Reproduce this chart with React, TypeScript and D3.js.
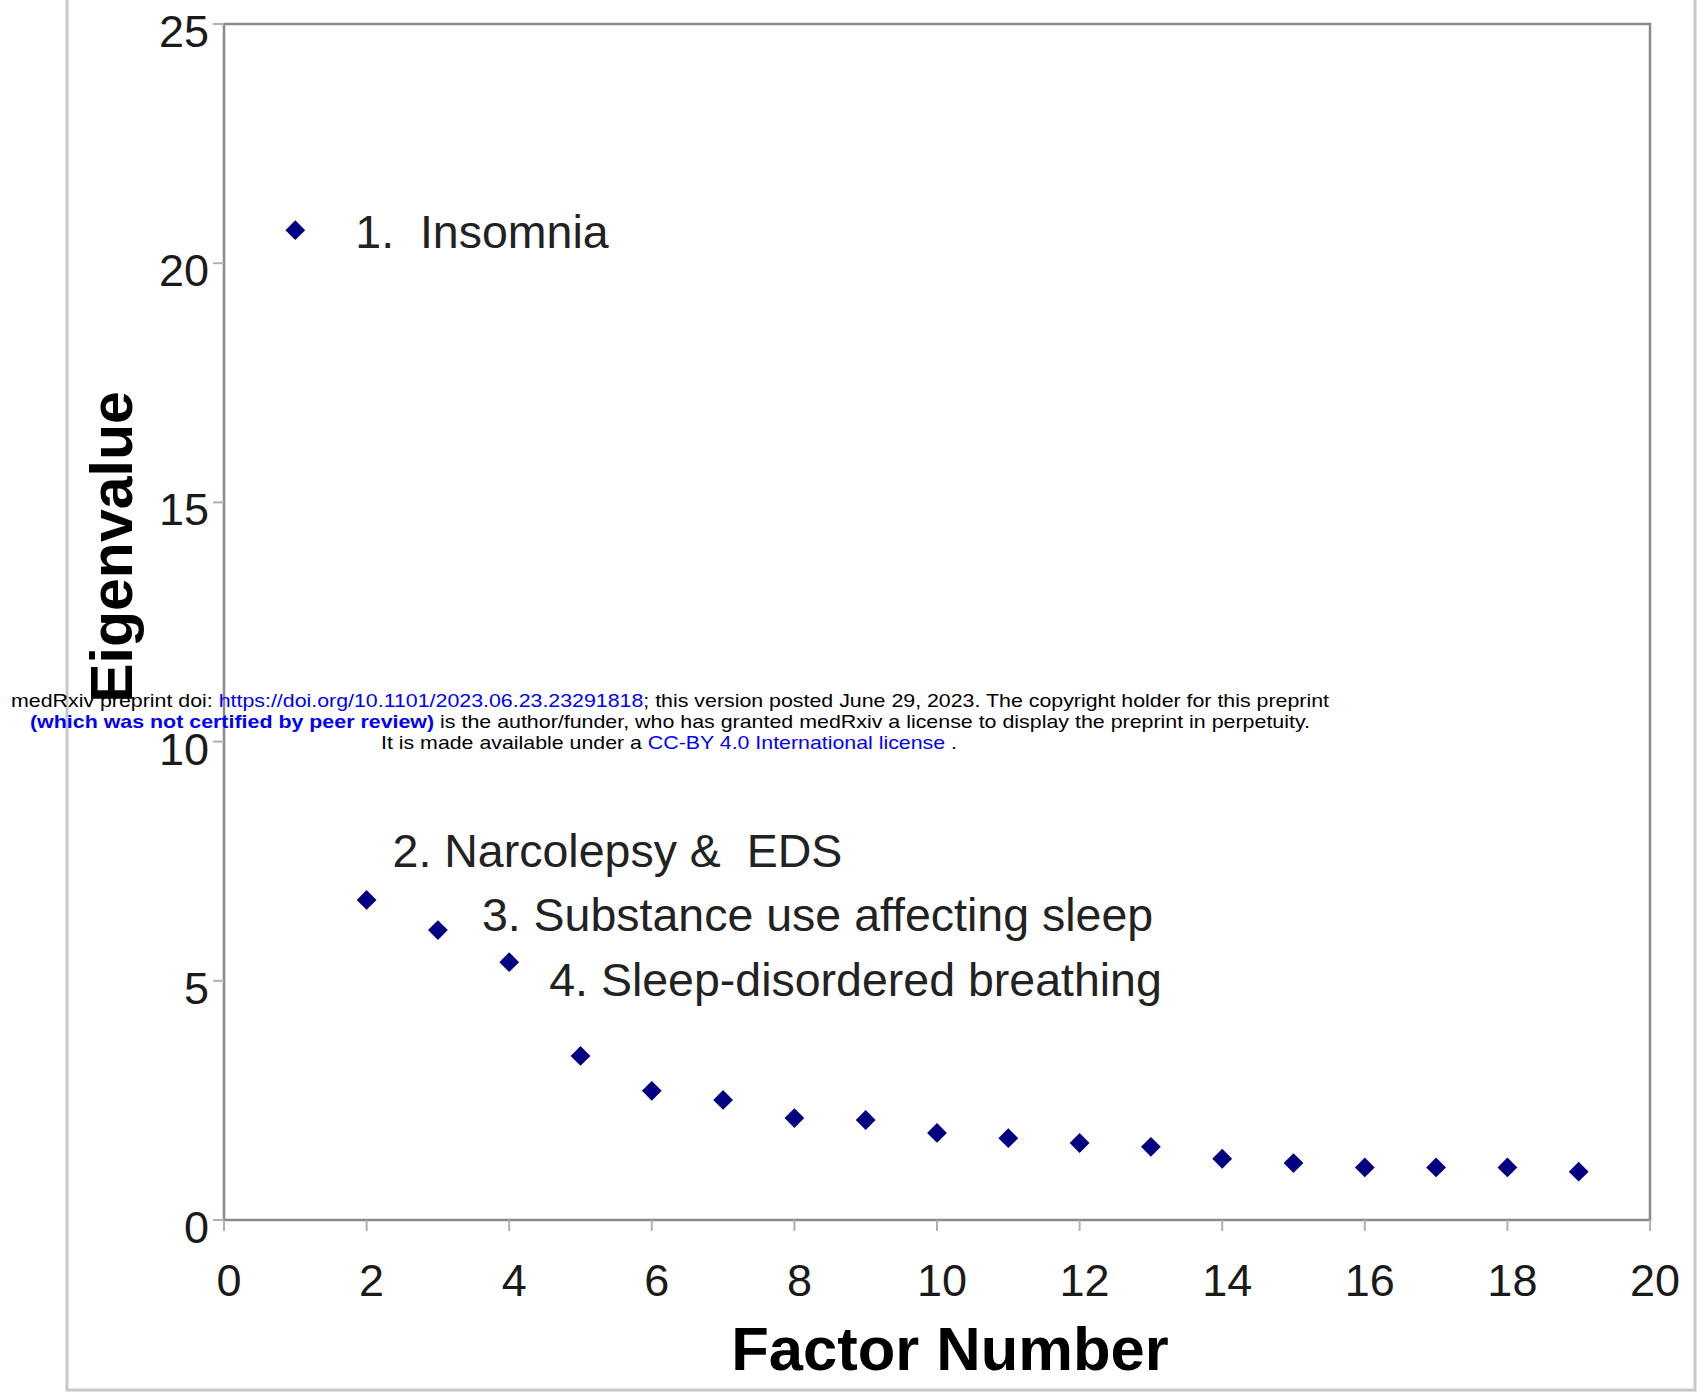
import React from "react";
import * as d3 from "d3";

const factors = [1, 2, 3, 4, 5, 6, 7, 8, 9, 10, 11, 12, 13, 14, 15, 16, 17, 18, 19];
const eigenvalues = [20.69, 6.69, 6.06, 5.39, 3.43, 2.70, 2.51, 2.13, 2.09, 1.82, 1.71, 1.61, 1.53, 1.28, 1.19, 1.10, 1.10, 1.10, 1.01];
const xTicks = [0, 2, 4, 6, 8, 10, 12, 14, 16, 18, 20];
const yTicks = [0, 5, 10, 15, 20, 25];
const annotations = [
  { factor: 1, label: "1.  Insomnia", dx: 60, value: 20.69 },
  { factor: 2, label: "2. Narcolepsy &  EDS", dx: 26, value: 7.75 },
  { factor: 3, label: "3. Substance use affecting sleep", dx: 44, value: 6.41 },
  { factor: 4, label: "4. Sleep-disordered breathing", dx: 40, value: 5.05 },
];

const W = 1697;
const H = 1399;
const FONT = "'Liberation Sans', Arial, Helvetica, sans-serif";

export default function App() {
  const x = d3.scaleLinear().domain([0, 20]).range([224, 1650]);
  const y = d3.scaleLinear().domain([0, 25]).range([1220, 24]);
  const diamond = d3.symbol().type(d3.symbolDiamond2).size(250)();

  return (
    <svg
      width={W}
      height={H}
      viewBox={`0 0 ${W} ${H}`}
      style={{ position: "absolute", left: 0, top: 0, background: "#fff" }}
      fontFamily={FONT}
    >
      <rect x={0} y={0} width={W} height={H} fill="#fff" />
      {/* outer frame */}
      <rect x={67} y={-10} width={1628} height={1400} fill="none" stroke="#c8c8c8" strokeWidth={3} />

      {/* plot frame */}
      <rect x={x(0)} y={y(25)} width={x(20) - x(0)} height={y(0) - y(25)} fill="none" stroke="#8a8a8a" strokeWidth={2.5} />

      {/* y ticks */}
      {yTicks.map((t) => (
        <g key={"y" + t}>
          <line x1={x(0) - 11} x2={x(0)} y1={y(t)} y2={y(t)} stroke="#b0b0b0" strokeWidth={2} />
          <text x={209} y={y(t) + 23} textAnchor="end" fontSize={45} fill="#1a1a1a">
            {t}
          </text>
        </g>
      ))}

      {/* x ticks */}
      {xTicks.map((t) => (
        <g key={"x" + t}>
          <line x1={x(t)} x2={x(t)} y1={y(0)} y2={y(0) + 11} stroke="#b0b0b0" strokeWidth={2} />
          <text x={x(t) + 5} y={1296} textAnchor="middle" fontSize={45} fill="#1a1a1a">
            {t}
          </text>
        </g>
      ))}

      {/* axis titles */}
      <text x={950} y={1370} textAnchor="middle" fontSize={61.5} fontWeight="bold" fill="#000">
        Factor Number
      </text>
      <text
        transform={`translate(132, 547) rotate(-90)`}
        textAnchor="middle"
        fontSize={59}
        fontWeight="bold"
        fill="#000"
      >
        Eigenvalue
      </text>

      {/* points */}
      {factors.map((f, i) => (
        <path key={"p" + f} d={diamond} transform={`translate(${x(f)}, ${y(eigenvalues[i])})`} fill="#000080" />
      ))}

      {/* annotations */}
      {annotations.map((a) => (
        <text
          key={a.label}
          x={x(a.factor) + a.dx}
          y={y(a.value) + 18}
          fontSize={46.5}
          fill="#222"
          style={{ whiteSpace: "pre" }}
        >
          {a.label}
        </text>
      ))}

      {/* medRxiv watermark */}
      <g fontSize={19} fontFamily={FONT}>
        <text x={670} y={707} textAnchor="middle" textLength={1318} lengthAdjust="spacingAndGlyphs">
          <tspan fill="#000">medRxiv preprint doi: </tspan>
          <tspan fill="#0000ff">https://doi.org/10.1101/2023.06.23.23291818</tspan>
          <tspan fill="#000">; this version posted June 29, 2023. The copyright holder for this preprint</tspan>
        </text>
        <text x={670} y={728} textAnchor="middle" textLength={1280} lengthAdjust="spacingAndGlyphs">
          <tspan fill="#0000ff" fontWeight="bold">(which was not certified by peer review)</tspan>
          <tspan fill="#000"> is the author/funder, who has granted medRxiv a license to display the preprint in perpetuity.</tspan>
        </text>
        <text x={669} y={749} textAnchor="middle" textLength={576} lengthAdjust="spacingAndGlyphs">
          <tspan fill="#000">It is made available under a </tspan>
          <tspan fill="#0000ff">CC-BY 4.0 International license</tspan>
          <tspan fill="#000"> .</tspan>
        </text>
      </g>
    </svg>
  );
}
